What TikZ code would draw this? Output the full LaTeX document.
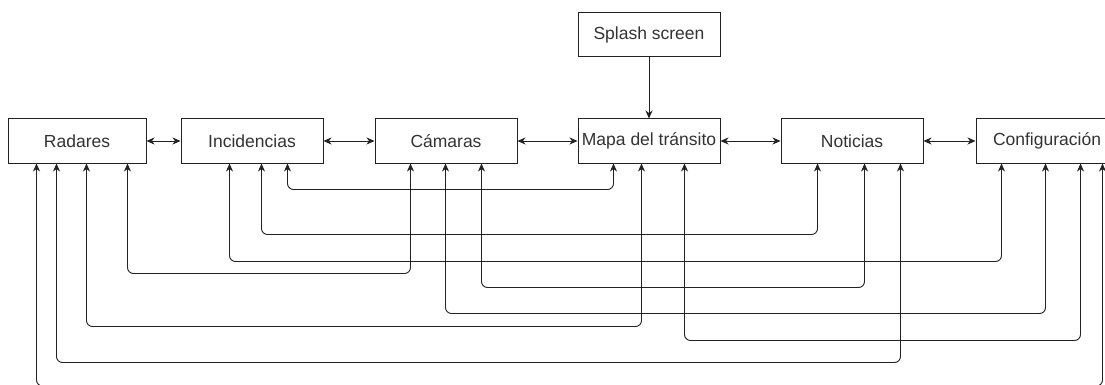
\documentclass[tikz,border=0pt]{standalone}
\usepackage{fontspec}
\setmainfont{Liberation Sans}
\usetikzlibrary{arrows.meta}
\definecolor{txt}{HTML}{333333}
\definecolor{ln}{HTML}{222222}
\tikzset{
  box/.style={draw=ln, line width=1pt, fill=white, minimum width=142pt, minimum height=44pt,
    inner sep=0pt, text=txt, font=\fontsize{17.5}{21}\selectfont},
  tip/.tip={Stealth[length=8pt,width=7pt,inset=2.5pt]},
  conn/.style={draw=ln, line width=0.95pt, rounded corners=6pt, tip-tip},
  onearrow/.style={draw=ln, line width=0.95pt, -tip}
}
\begin{document}
\begin{tikzpicture}[x=1pt,y=-1pt]
\useasboundingbox (0,0) rectangle (1105,385);
\clip (0,0) rectangle (1105,385);
\node[box, minimum width=138pt] (rad) at (77,141) {Radares};
\node[box] (inc) at (252,141) {Incidencias};
\node[box] (cam) at (446,141) {Cámaras};
\node[box] (map) at (649,141) {Mapa del tránsito};
\node[box] (not) at (852,141) {Noticias};
\node[box] (cfg) at (1047,141) {Configuración};
\node[box] (spl) at (649,35) {Splash screen};
\draw[onearrow] (spl.south) -- (map.north);
\draw[conn] (rad.east) -- (inc.west);
\draw[conn] (inc.east) -- (cam.west);
\draw[conn] (cam.east) -- (map.west);
\draw[conn] (map.east) -- (not.west);
\draw[conn] (not.east) -- (cfg.west);
% long connectors
\draw[conn] ([xshift=107pt]inc.south west) -- ++(0,26) -| ([xshift=36pt]map.south west);
\draw[conn] ([xshift=81pt]inc.south west) -- ++(0,71) -| ([xshift=37pt]not.south west);
\draw[conn] ([xshift=49pt]inc.south west) -- ++(0,98) -| ([xshift=26pt]cfg.south west);
\draw[conn] ([xshift=120pt]rad.south west) -- ++(0,110) -| ([xshift=36pt]cam.south west);
\draw[conn] ([xshift=107pt]cam.south west) -- ++(0,124) -| ([xshift=84pt]not.south west);
\draw[conn] ([xshift=71pt]cam.south west) -- ++(0,150) -| ([xshift=70pt]cfg.south west);
\draw[conn] ([xshift=79pt]rad.south west) -- ++(0,163) -| ([xshift=64pt]map.south west);
\draw[conn] ([xshift=107pt]map.south west) -- ++(0,177) -| ([xshift=105pt]cfg.south west);
\draw[conn] ([xshift=49pt]rad.south west) -- ++(0,199) -| ([xshift=120pt]not.south west);
\draw[conn] ([xshift=29pt]rad.south west) -- ++(0,222.5) -| ([xshift=127pt]cfg.south west);
\end{tikzpicture}
\end{document}
